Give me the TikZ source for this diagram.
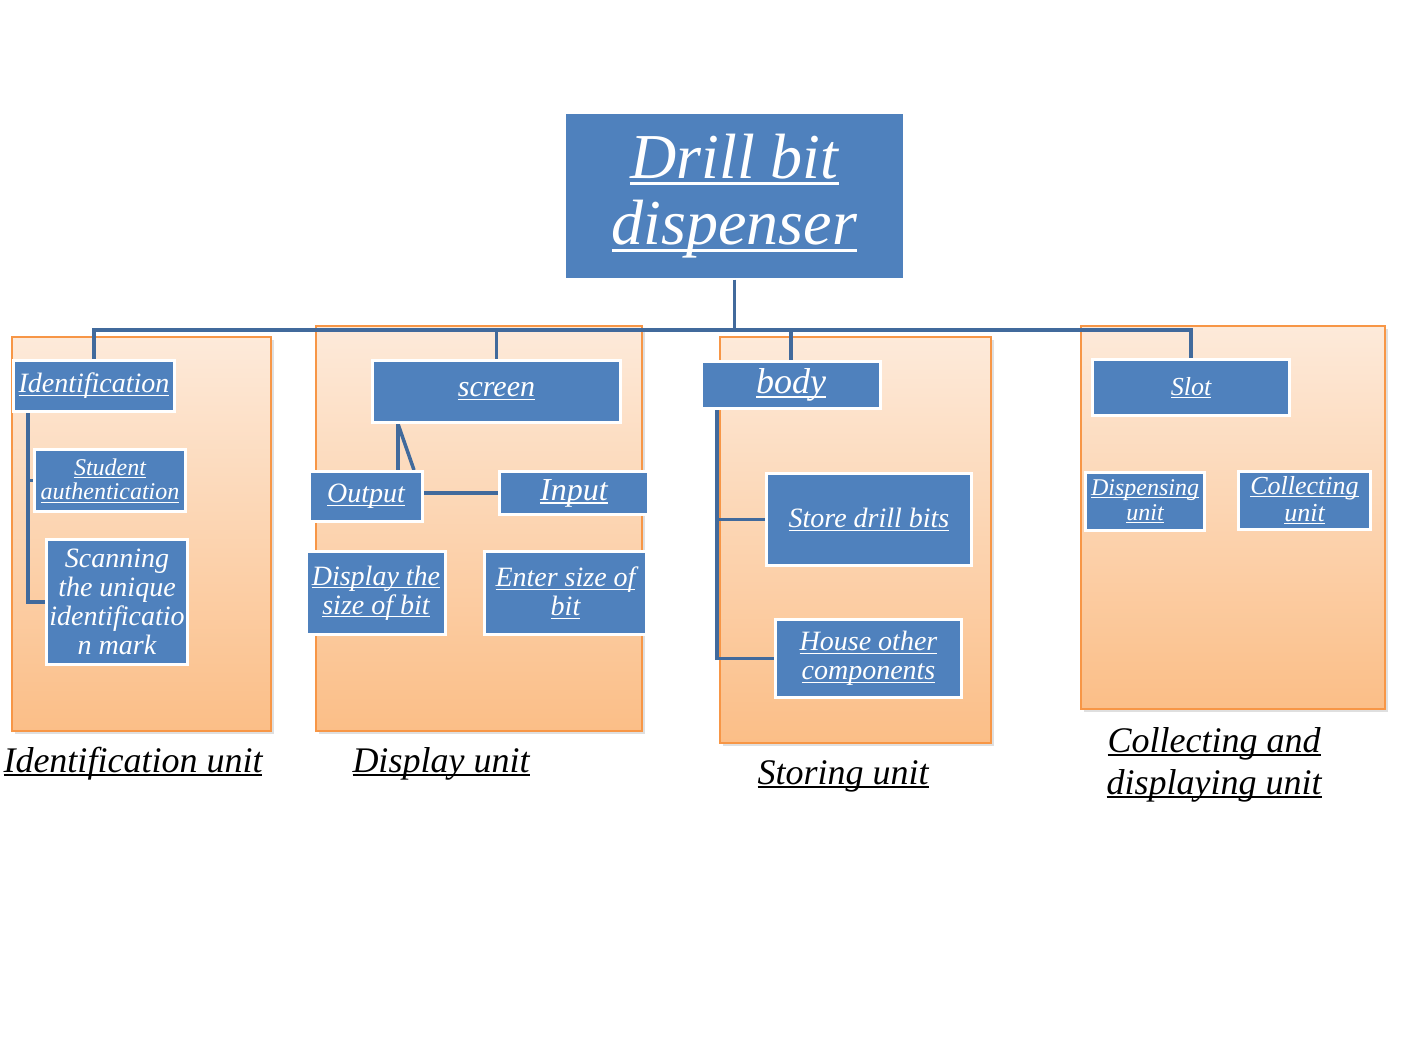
\documentclass[tikz,border=0pt]{standalone}
\usepackage{fontspec}
\setmainfont{Liberation Serif}
\usetikzlibrary{shadows}

\definecolor{boxblue}{RGB}{79,129,189}
\definecolor{connblue}{RGB}{65,106,156}
\definecolor{panelline}{RGB}{247,150,70}
\definecolor{paneltop}{RGB}{253,234,218}
\definecolor{panelbot}{RGB}{251,190,135}

% underline that grows with the font
\newcommand\undr[1]{\leavevmode\setbox0=\hbox{#1}\rlap{\rule[-0.11em]{\wd0}{0.045em}}\box0}

\pgfdeclarelayer{bg}
\pgfsetlayers{bg,main}

\tikzset{
  blk/.style={fill=boxblue, draw=white, line width=3pt, text=white, inner sep=0pt, align=center,
    font=\itshape\fontsize{#1}{\dimexpr#1pt*26/25\relax}\selectfont},
  panel/.style={draw=panelline, line width=2pt, top color=paneltop, bottom color=panelbot,
    drop shadow={opacity=0.25, shadow xshift=3pt, shadow yshift=-3pt}},
  conn/.style={draw=connblue, line width=3.5pt},
  lbl/.style={anchor=base, align=center, font=\itshape\fontsize{36}{42}\selectfont},
}

\begin{document}
\begin{tikzpicture}[x=1pt, y=-1pt]
    \useasboundingbox (0,0) rectangle (1408,1061);
    \coordinate (bus) at (0,330);

    \node [blk=64, draw=none, minimum width=337pt, minimum height=164pt] (title) at (734.5,196) {\undr{Drill bit}\\\undr{dispenser}};

    % identification unit
    \node [blk=28, minimum width=161pt, minimum height=51pt] (ident) at (94,386) {\undr{Identification}};
    \node [blk=24, minimum width=151pt, minimum height=62pt] (stud) at (110,480.5) {\undr{Student}\\\undr{authentication}};
    \node [blk=28, minimum width=141pt, minimum height=125pt] (scan) at (117,602) {Scanning\\the unique\\identificatio\\n mark};

    % display unit
    \node [blk=30, minimum width=248pt, minimum height=62pt] (screen) at (496.5,391.5) {\undr{screen}};
    \node [blk=28, minimum width=113pt, minimum height=50pt] (output) at (366,496.5) {\undr{Output}};
    \node [blk=32, minimum width=149pt, minimum height=43pt] (input) at (574,493) {\undr{Input}};
    \node [blk=28, minimum width=139pt, minimum height=83pt] (dispsize) at (376,593) {\undr{Display the}\\\undr{size of bit}};
    \node [blk=28, minimum width=162pt, minimum height=83pt] (entersize) at (565.5,593) {\undr{Enter size of}\\\undr{bit}};

    % storing unit
    \node [blk=36, minimum width=179pt, minimum height=47pt] (body) at (791,385) {\undr{body}};
    \node [blk=28, minimum width=205pt, minimum height=92pt] (store) at (869,519.5) {\undr{Store drill bits}};
    \node [blk=28, minimum width=186pt, minimum height=78pt] (house) at (868.5,658.5) {\undr{House other}\\\undr{components}};

    % collecting and displaying unit
    \node [blk=26, minimum width=197pt, minimum height=56pt] (slot) at (1191,387.5) {\undr{Slot}};
    \node [blk=24, minimum width=119pt, minimum height=58pt] (dispu) at (1145,501.5) {\undr{Dispensing}\\\undr{unit}};
    \node [blk=26, minimum width=132pt, minimum height=58pt] (collu) at (1304.5,500.5) {\undr{Collecting}\\\undr{unit}};

    \node [lbl] (idlbl) at (133,772) {\undr{Identification unit}};
    \node [lbl] (displbl) at (441,772) {\undr{Display unit}};
    \node [lbl] (storelbl) at (843,784) {\undr{Storing unit}};
    \node [lbl] (colllbl) at (1214,794) {\undr{Collecting and}\\\undr{displaying unit}};

    \begin{pgfonlayer}{bg}
        \draw [panel] (12,337) rectangle (271,731);
        \draw [panel] (316,326) rectangle (642,731);
        \draw [panel] (720,337) rectangle (991,743);
        \draw [panel] (1081,326) rectangle (1385,709);

        \draw [conn] (title.south) -- (title.south |- bus);
        \draw [conn] (ident.north) -- (ident.north |- bus) -| (slot.north);
        \draw [conn] (screen.north) -- (screen.north |- bus);
        \draw [conn] (body.north) -- (body.north |- bus);

        \draw [conn] ([xshift=-66pt]ident.south) |- (scan.west);
        \draw [conn] ([xshift=-66pt]ident.south |- stud.west) -- (stud.west);

        \draw [conn] ([xshift=-98.5pt]screen.south) -- ([xshift=-98.5pt]screen.south |- output.north);
        \draw [conn] ([xshift=-98.5pt]screen.south) -- ([xshift=48pt]output.north);
        \draw [conn] (output.east |- input.west) -- (input.west);

        \draw [conn] ([xshift=-74pt]body.south) |- (house.west);
        \draw [conn] ([xshift=-74pt]body.south |- store.west) -- (store.west);
    \end{pgfonlayer}
\end{tikzpicture}
\end{document}
